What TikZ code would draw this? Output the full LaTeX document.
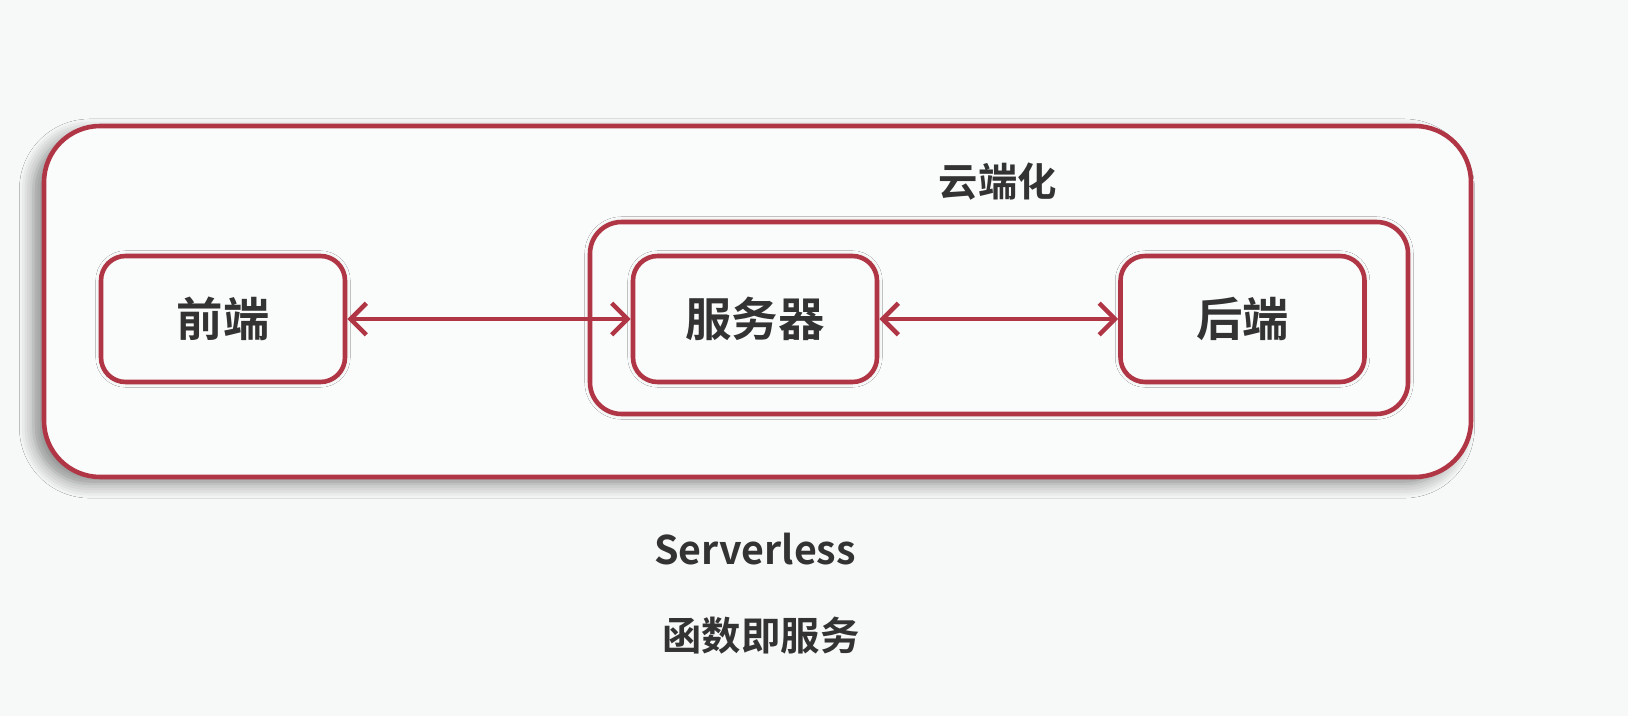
\documentclass[tikz,border=0pt]{standalone}
\usepackage{fontspec}
\newfontfamily\cjk{Noto Sans CJK SC Bold}
\usetikzlibrary{arrows.meta,shadows.blur}
\definecolor{rim}{RGB}{176,54,70}
\definecolor{ink}{RGB}{51,51,51}
\definecolor{paper}{RGB}{247,248,248}
\definecolor{card}{RGB}{250,251,251}
\tikzset{
  box/.style={draw=rim,line width=1.3pt,fill=card,rounded corners=7pt,
    minimum width=2.44cm,minimum height=1.26cm,
    font=\cjk\fontsize{13.2}{15}\selectfont,text=ink,
    blur shadow={shadow xshift=0pt,shadow yshift=0pt,shadow blur steps=4,shadow blur radius=1.5pt,shadow opacity=14}},
  lnk/.style={draw=rim,line width=1.3pt,{Straight Barb[length=4.5pt,width=9pt]}-{Straight Barb[length=4.5pt,width=9pt]}},
  caption/.style={font=\cjk\fontsize{11.2}{13}\selectfont,text=ink}
}
\begin{document}
\begin{tikzpicture}
\fill[paper] (0,0) rectangle (16.28,-7.16);
\useasboundingbox (0,0) rectangle (16.28,-7.16);
% outer frame
\node[draw=rim,line width=1.3pt,fill=card,rounded corners=16pt,minimum width=14.27cm,minimum height=3.51cm,
  blur shadow={shadow xshift=-3pt,shadow yshift=-2pt,shadow blur steps=6,shadow blur radius=4pt,shadow opacity=45}]
  (frame) at (7.575,-3.015) {};
% cloud group
\node[draw=rim,line width=1.3pt,fill=card,rounded corners=9pt,minimum width=8.18cm,minimum height=1.92cm,
  blur shadow={shadow xshift=0pt,shadow yshift=0pt,shadow blur steps=4,shadow blur radius=1.5pt,shadow opacity=14}]
  (cloud) at (9.99,-3.18) {};
\node[caption] (T0) at (9.98,-1.82) {云端化};
\node[box] (FE) at (2.23,-3.19) {前端};
\node[box] (SV) at (7.55,-3.19) {服务器};
\node[box] (BE) at (12.425,-3.19) {后端};
\draw[lnk] (FE) -- (SV);
\draw[lnk] (SV) -- (BE);
\node[caption] (T1) at (7.55,-5.49) {Serverless};
\node[caption] (T2) at (7.61,-6.36) {函数即服务};
\end{tikzpicture}
\end{document}
